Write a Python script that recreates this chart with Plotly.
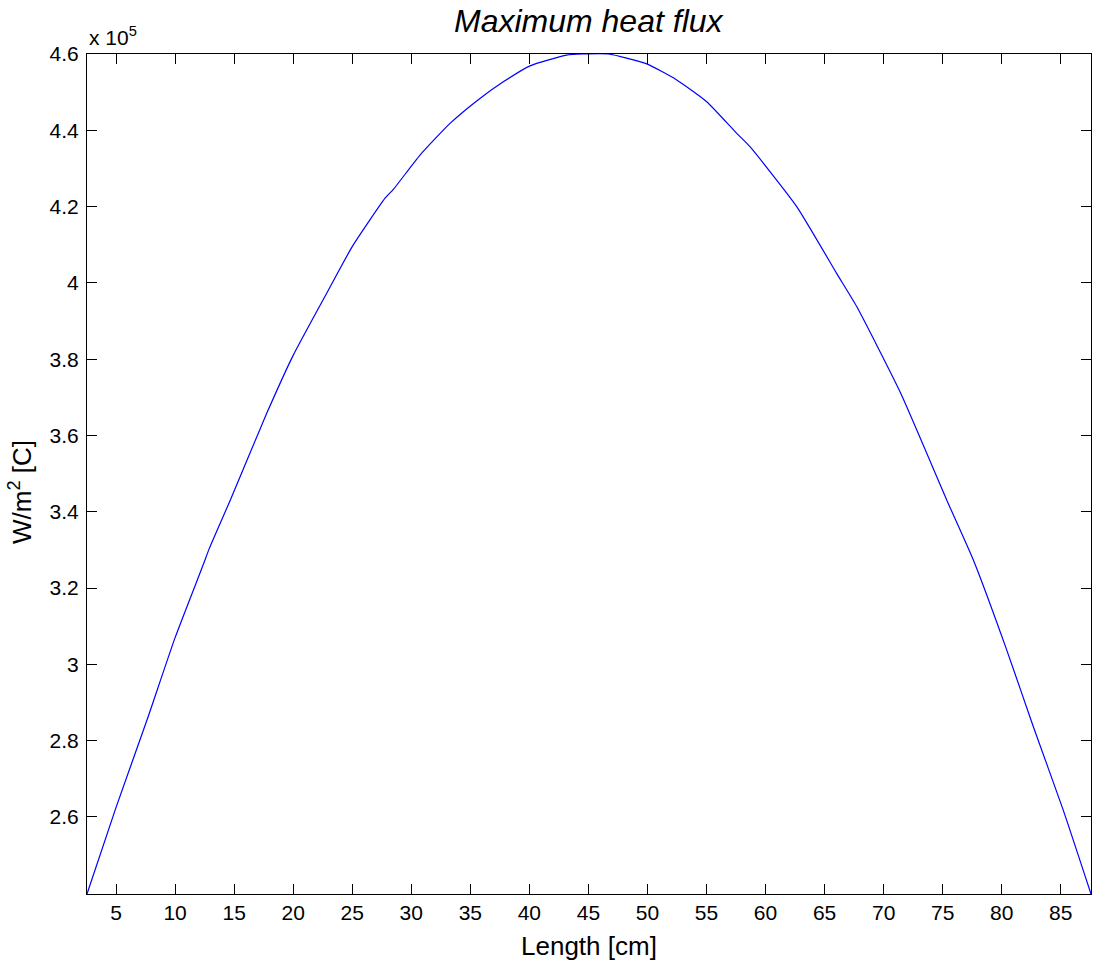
import plotly.graph_objects as go

# Maximum heat flux along the channel length
length_cm = [2.54, 5.0, 7.62, 10.0, 12.43, 12.90, 14.68, 17.76, 20.0, 22.84,
             25.0, 27.78, 28.48, 30.74, 33.28, 35.54, 37.79, 40.06, 43.16, 44.5,
             46.69, 49.94, 52.48, 55.02, 57.56, 58.68, 62.64, 66.02, 67.72, 71.38,
             75.34, 77.59, 80.42, 82.67, 85.21, 87.56]
heat_flux = [2.398e5, 2.625e5, 2.854e5, 3.070e5, 3.265e5, 3.304e5, 3.431e5, 3.658e5, 3.810e5, 3.973e5,
             4.095e5, 4.222e5, 4.245e5, 4.335e5, 4.418e5, 4.477e5, 4.527e5, 4.569e5, 4.597e5, 4.600e5,
             4.600e5, 4.574e5, 4.532e5, 4.475e5, 4.392e5, 4.357e5, 4.200e5, 4.025e5, 3.938e5, 3.715e5,
             3.431e5, 3.274e5, 3.038e5, 2.837e5, 2.618e5, 2.398e5]

x_ticks = list(range(5, 90, 5))
y_ticks = [2.6e5, 2.8e5, 3.0e5, 3.2e5, 3.4e5, 3.6e5, 3.8e5, 4.0e5, 4.2e5, 4.4e5, 4.6e5]
y_tick_labels = ["2.6", "2.8", "3", "3.2", "3.4", "3.6", "3.8", "4", "4.2", "4.4", "4.6"]

FONT = "Liberation Sans, Arial, sans-serif"

fig = go.Figure()
fig.add_trace(go.Scatter(
    x=length_cm, y=heat_flux, mode="lines",
    line=dict(color="#0000ff", width=1.2, shape="spline", smoothing=0.5),
    showlegend=False, hoverinfo="skip",
))

axis_common = dict(
    showline=True, linecolor="black", linewidth=1, mirror="ticks",
    ticks="inside", ticklen=10, tickwidth=1, tickcolor="black",
    showgrid=False, zeroline=False,
    tickfont=dict(family=FONT, size=21, color="black"),
)

fig.update_xaxes(range=[2.54, 87.56], tickvals=x_ticks, **axis_common)
fig.update_yaxes(range=[2.398e5, 4.6e5], tickvals=y_ticks, ticktext=y_tick_labels,
                 ticklabelstandoff=3, **axis_common)

fig.update_layout(
    width=1095, height=962,
    margin=dict(l=87, r=4, t=54, b=68),
    paper_bgcolor="white", plot_bgcolor="white",
    annotations=[
        dict(text="<i>Maximum heat flux</i>", x=0.5, y=1, xref="paper", yref="paper",
             xanchor="center", yanchor="middle", yshift=33, showarrow=False,
             font=dict(family=FONT, size=32, color="black")),
        dict(text="Length [cm]", x=0.5, y=0, xref="paper", yref="paper",
             xanchor="center", yanchor="middle", yshift=-52, showarrow=False,
             font=dict(family=FONT, size=26, color="black")),
        dict(text="W/m<sup>2</sup> [C]", x=0, y=0.4786, xref="paper", yref="paper",
             xanchor="center", yanchor="middle", xshift=-66, textangle=-90, showarrow=False,
             font=dict(family=FONT, size=26, color="black")),
        dict(text="x 10<sup>5</sup>", x=0, y=1, xref="paper", yref="paper",
             xanchor="left", yanchor="bottom", yshift=3, showarrow=False,
             font=dict(family=FONT, size=21, color="black")),
    ],
)

fig.write_html("out.html")
